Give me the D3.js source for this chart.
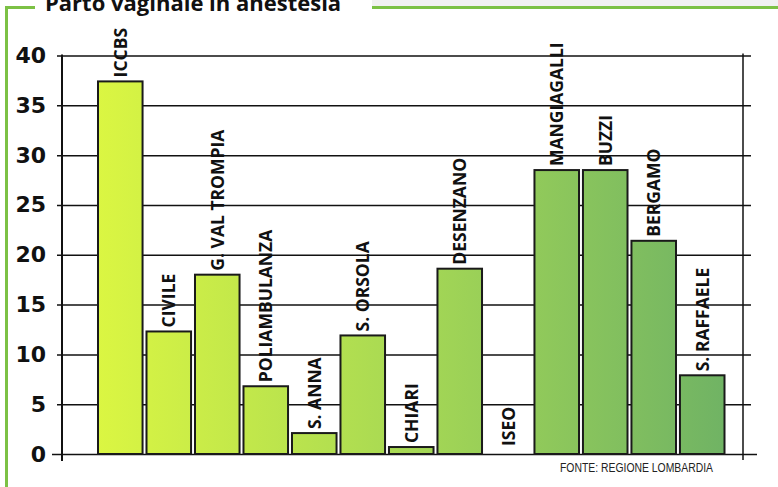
<!DOCTYPE html>
<html>
<head>
<meta charset="utf-8">
<script src="https://cdn.jsdelivr.net/npm/d3@7"></script>
<style>
  html, body { margin: 0; padding: 0; background: #fff; }
  svg { display: block; }
</style>
</head>
<body>
<svg id="chart" width="778" height="487"></svg>
<script>
// hospitals, in chart order
const hospitals = [
    "ICCBS", "CIVILE", "G. VAL TROMPIA", "POLIAMBULANZA", "S. ANNA", "S. ORSOLA",
    "CHIARI", "DESENZANO", "ISEO", "MANGIAGALLI", "BUZZI", "BERGAMO", "S. RAFFAELE"
];
// % parto vaginale in anestesia
const values = [37.4, 12.3, 18.0, 6.8, 2.1, 11.9, 0.7, 18.6, 0, 28.5, 28.5, 21.4, 7.9];
const yTicks = [0, 5, 10, 15, 20, 25, 30, 35, 40];

const title = "Parto vaginale in anestesia";
const source = "FONTE: REGIONE LOMBARDIA";

const svg = d3.select("#chart");

const x = d3.scaleBand()
    .domain(hospitals)
    .range([97, 725.5])
    .paddingInner(0.04)
    .paddingOuter(0);

const y = d3.scaleLinear()
    .domain([0, 40])
    .range([454, 55.5]);

// bar fill: one gradient across the whole plot, yellow-green -> green
const defs = svg.append("defs");
const grad = defs.append("linearGradient")
    .attr("id", "barGrad")
    .attr("gradientUnits", "userSpaceOnUse")
    .attr("x1", 97).attr("x2", 725).attr("y1", 0).attr("y2", 0);
grad.append("stop").attr("offset", "0%").attr("stop-color", "#dbf642");
grad.append("stop").attr("offset", "50%").attr("stop-color", "#a6d854");
grad.append("stop").attr("offset", "100%").attr("stop-color", "#70b364");

// frame: grey strip + green lines round the title
svg.append("rect")
    .attr("x", 372).attr("y", 0).attr("width", 406).attr("height", 6)
    .attr("fill", "#f1f1f1");
const frame = svg.append("g")
    .attr("stroke", "#7cc145")
    .attr("stroke-width", 3);
frame.append("line").attr("x1", 6.5).attr("x2", 6.5).attr("y1", 6).attr("y2", 487);
frame.append("line").attr("x1", 5).attr("x2", 35).attr("y1", 7.5).attr("y2", 7.5);
frame.append("line").attr("x1", 372).attr("x2", 778).attr("y1", 7.5).attr("y2", 7.5);

svg.append("text")
    .attr("x", 45)
    .attr("y", 11)
    .attr("font-family", "'Open Sans', sans-serif")
    .attr("font-weight", "bold")
    .attr("font-size", 22)
    .attr("fill", "#111")
    .text(title);

// gridlines
const grid = svg.append("g")
    .attr("transform", "translate(57,0)")
    .call(d3.axisRight(y).tickValues(yTicks).tickSize(694).tickFormat(""));
grid.select(".domain").remove();
grid.selectAll(".tick line")
    .attr("stroke", "#111")
    .attr("stroke-width", 1.5);
grid.selectAll(".tick line")
    .filter(d => d === 0)
    .attr("x1", -5)
    .attr("x2", 700);

// tick labels
const yAxis = svg.append("g")
    .attr("transform", "translate(46,0)")
    .call(d3.axisLeft(y).tickValues(yTicks).tickSize(0).tickPadding(0));
yAxis.select(".domain").remove();
yAxis.selectAll("text")
    .attr("font-family", "'DejaVu Sans', sans-serif")
    .attr("font-weight", "bold")
    .attr("font-size", 22)
    .attr("fill", "#111");

// vertical axis lines
svg.append("line")
    .attr("x1", 62).attr("x2", 62).attr("y1", y(40) - 1).attr("y2", 461)
    .attr("stroke", "#111").attr("stroke-width", 2);
svg.append("line")
    .attr("x1", 743).attr("x2", 743).attr("y1", y(40) - 2).attr("y2", 460)
    .attr("stroke", "#111").attr("stroke-width", 1.5);

const data = hospitals.map((h, i) => ({ name: h, value: values[i] }));

svg.selectAll(".bar")
    .data(data.filter(d => d.value > 0))
    .enter()
    .append("rect")
        .attr("class", "bar")
        .attr("x", d => x(d.name) + 1)
        .attr("y", d => y(d.value))
        .attr("width", x.bandwidth() - 2)
        .attr("height", d => y(0) - y(d.value))
        .attr("fill", "url(#barGrad)")
        .attr("stroke", "#1a1a1a")
        .attr("stroke-width", 2);

// vertical labels above each bar
svg.selectAll(".lbl")
    .data(data)
    .enter()
    .append("text")
        .attr("class", "lbl")
        .attr("transform", d => "translate(" + (x(d.name) + x.bandwidth() / 2) + "," + (Math.min(y(d.value), y(0) - 4) - 4) + ") rotate(-90)")
        .attr("dy", "0.36em")
        .attr("text-anchor", "start")
        .attr("font-family", "'Open Sans', sans-serif")
        .attr("font-weight", "bold")
        .attr("font-size", 17.5)
        .attr("fill", "#111")
        .text(d => d.name);

svg.append("text")
    .attr("x", 560)
    .attr("y", 472)
    .attr("font-family", "'Liberation Sans Narrow', 'Liberation Sans', sans-serif")
    .attr("font-size", 12.5)
    .attr("textLength", 153)
    .attr("lengthAdjust", "spacingAndGlyphs")
    .attr("fill", "#222")
    .text(source);
</script>
</body>
</html>
